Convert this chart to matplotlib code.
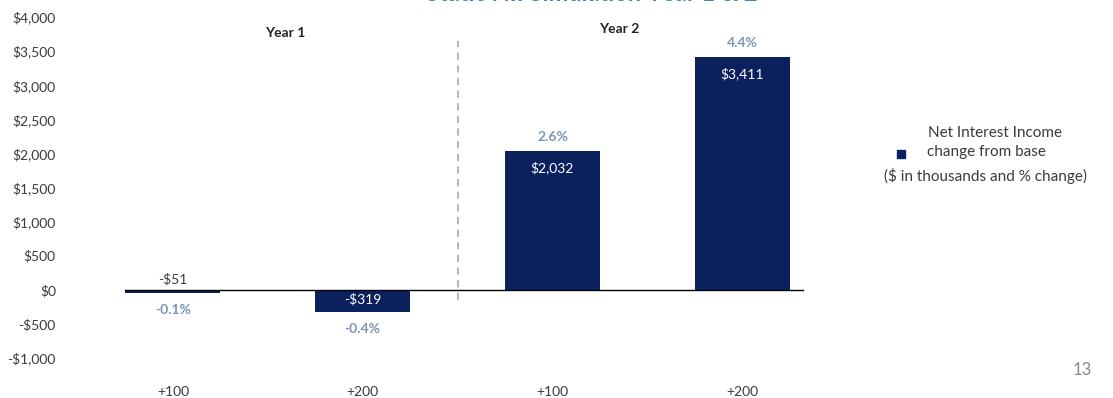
import matplotlib
matplotlib.use("Agg")
import matplotlib.pyplot as plt
from matplotlib.ticker import FuncFormatter

# =================== DATA ===================
categories = ["+100", "+200", "+100", "+200"]
nii_change = [-51, -319, 2032, 3411]          # $ in thousands
pct_change = [-0.1, -0.4, 2.6, 4.4]           # % change
value_labels = ["-$51", "-$319", "$2,032", "$3,411"]
pct_labels = ["-0.1%", "-0.4%", "2.6%", "4.4%"]
year_labels = ["Year 1", "Year 2"]
y_ticks = [-1000, -500, 0, 500, 1000, 1500, 2000, 2500, 3000, 3500, 4000]

NAVY = "#0b215e"
PCT_BLUE = "#7b96b8"
TEXT = "#3a3a3a"
FONT = ["Lato", "DejaVu Sans"]


def money(v, pos=None):
    v = int(v)
    return f"-${abs(v):,}" if v < 0 else f"${v:,}"


def main():
    plt.rcParams["font.family"] = FONT
    fig = plt.figure(figsize=(11.13, 3.98), dpi=100)
    ax = fig.add_axes([0.0701, 0.1005, 0.682, 0.8565])

    x = list(range(len(categories)))
    ax.bar(x, nii_change, width=0.5, color=NAVY, zorder=2)

    ax.set_xlim(-0.5, 3.5)
    ax.set_ylim(-1000, 4000)
    ax.set_yticks(y_ticks)
    ax.yaxis.set_major_formatter(FuncFormatter(money))
    ax.set_xticks(x)
    ax.set_xticklabels(categories)
    ax.tick_params(axis="y", length=0, pad=16, labelsize=10, labelcolor=TEXT)
    ax.tick_params(axis="x", length=0, pad=20, labelsize=10, labelcolor=TEXT)
    for s in ax.spines.values():
        s.set_visible(False)

    # zero line
    ax.plot([-0.25, 3.32], [0, 0], color="black", linewidth=1.0, zorder=3)

    # divider between years
    ax.plot([1.5, 1.5], [-150, 3650], color="#b0b0b0", linestyle=(0, (4, 3)),
            linewidth=1.3, zorder=1)

    ax.text(0.59, 3770, year_labels[0], ha="center", va="center",
            fontsize=10, fontweight="bold", color="#222222")
    ax.text(2.35, 3830, year_labels[1], ha="center", va="center",
            fontsize=10, fontweight="bold", color="#222222")

    # value labels
    for i, v in enumerate(nii_change):
        if abs(v) < 150:
            ax.text(i, 150, value_labels[i], ha="center", va="center",
                    fontsize=10, color=TEXT)
            ax.text(i, -300, pct_labels[i], ha="center", va="center",
                    fontsize=10, fontweight="bold", color=PCT_BLUE)
        elif v < 0:
            ax.text(i, -140, value_labels[i], ha="center", va="center",
                    fontsize=10, color="white")
            ax.text(i, -580, pct_labels[i], ha="center", va="center",
                    fontsize=10, fontweight="bold", color=PCT_BLUE)
        else:
            ax.text(i, v - 240, value_labels[i], ha="center", va="center",
                    fontsize=10, color="white")
            ax.text(i, v + 210, pct_labels[i], ha="center", va="center",
                    fontsize=10, fontweight="bold", color=PCT_BLUE)

    # legend
    fig.patches.append(plt.Rectangle((897 / 1113, 1 - 158 / 398), 8 / 1113, 8 / 398,
                                     transform=fig.transFigure, color=NAVY))
    fig.text(995 / 1113, 1 - 133 / 398, "Net Interest Income", ha="center",
             va="center", fontsize=11, color=TEXT)
    fig.text(986 / 1113, 1 - 152 / 398, "change from base", ha="center",
             va="center", fontsize=11, color=TEXT)
    fig.text(985 / 1113, 1 - 176 / 398, "($ in thousands and % change)",
             ha="center", va="center", fontsize=11, color=TEXT)

    # page number
    fig.text(1082 / 1113, 1 - 370 / 398, "13", ha="center", va="center",
             fontsize=12, color="#888888")

    # slide title, cut off at the top edge as in the source slide
    fig.text(592 / 1113, 1 + 6.5 / 398, "Static NII Simulation Year 1 & 2",
             ha="center", va="center", fontsize=17, fontweight="bold",
             color="#4a7ebb")

    fig.savefig("out.png", dpi=100)
    plt.close(fig)


if __name__ == "__main__":
    main()
